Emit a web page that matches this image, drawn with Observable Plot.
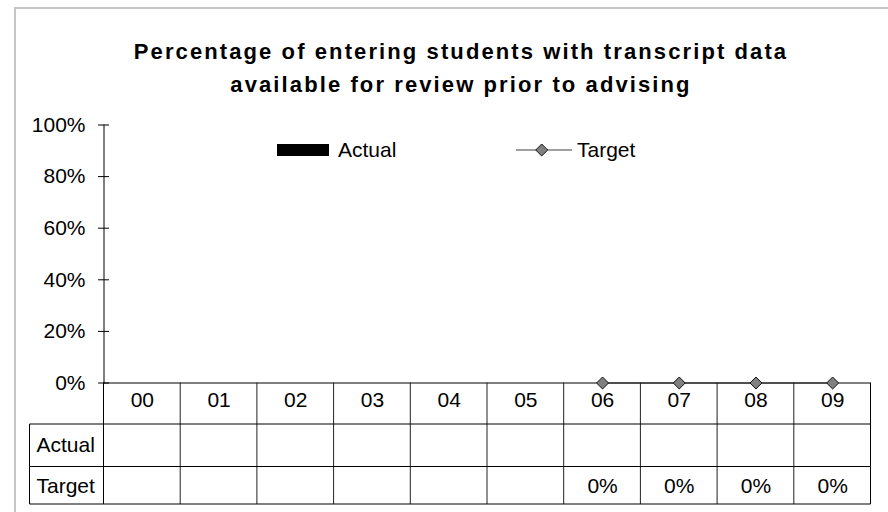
<!DOCTYPE html>
<html>
<head>
<meta charset="utf-8">
<script src="https://cdn.jsdelivr.net/npm/d3@7"></script>
<script src="https://cdn.jsdelivr.net/npm/@observablehq/plot@0.6"></script>
<style>
  html, body { margin: 0; padding: 0; background: #fff; }
  #chart svg { display: block; }
</style>
</head>
<body>
<div id="chart"></div>
<script>
// ---- data ----
const years = ["00", "01", "02", "03", "04", "05", "06", "07", "08", "09"];
const actualValues = [null, null, null, null, null, null, null, null, null, null];
const targetValues = [null, null, null, null, null, null, 0, 0, 0, 0];
const yTicks = [0, 0.2, 0.4, 0.6, 0.8, 1.0];
const titleLines = ["Percentage of entering students with transcript data", "available for review prior to advising"];
const seriesNames = ["Actual", "Target"];

const actual = years.map((y, i) => ({year: y, value: actualValues[i]}));
const target = years.map((y, i) => ({year: y, value: targetValues[i]}));
const pct = d3.format(".0%");
const FONT = "Liberation Sans, Arial, sans-serif";
const FS = 21;

const W = 888, H = 512;
const plot = Plot.plot({
  width: W,
  height: H,
  marginLeft: 103.5,
  marginRight: 17.5,
  marginTop: 124.5,
  marginBottom: 129.5,
  style: {fontFamily: FONT, fontSize: FS + "px", color: "#000", background: "#fff"},
  x: {type: "band", domain: years, padding: 0, round: false, axis: null},
  y: {domain: [0, 1]},
  marks: [
    Plot.axisY({ticks: yTicks, tickFormat: pct, label: null, tickSize: 11, dx: 5.5, tickPadding: 13, fontSize: FS, stroke: "#000", strokeOpacity: 1}),
    Plot.barY(actual.filter(d => d.value != null), {x: "year", y: "value", fill: "#000"}),
    Plot.line(target.filter(d => d.value != null), {x: "year", y: "value", stroke: "#808080", strokeWidth: 1.5}),
    Plot.frame({anchor: "left", stroke: "#000"}),
    Plot.ruleY([0], {stroke: "#000"}),
    Plot.dot(target.filter(d => d.value != null), {x: "year", y: "value", symbol: "diamond2", r: 5.4, fill: "#808080", stroke: "#111", strokeWidth: 1}),
    // data table text
    Plot.text(years, {x: d => d, text: d => d, frameAnchor: "bottom", dy: 24, fontSize: FS, fill: "#000"}),
    Plot.text(actual.filter(d => d.value != null), {x: "year", text: d => pct(d.value), frameAnchor: "bottom", dy: 68.5, fontSize: FS, fill: "#000"}),
    Plot.text(target.filter(d => d.value != null), {x: "year", text: d => pct(d.value), frameAnchor: "bottom", dy: 110, fontSize: FS, fill: "#000"}),
    Plot.text([seriesNames[0]], {text: d => d, frameAnchor: "bottom-left", dx: -67.5, dy: 68.5, textAnchor: "start", fontSize: FS, fill: "#000"}),
    Plot.text([seriesNames[1]], {text: d => d, frameAnchor: "bottom-left", dx: -67.5, dy: 110, textAnchor: "start", fontSize: FS, fill: "#000"})
  ]
});

const svg = d3.select(plot);
const xs = plot.scale("x");
const ys = plot.scale("y");
const bw = xs.bandwidth;
const edges = years.map(y => xs.apply(y)).concat([xs.apply(years[years.length - 1]) + bw]);
const y0 = ys.apply(0);
const rowA = y0 + 41.5, rowT = y0 + 84, rowB = y0 + 121.5;
const tableLeft = 29.5;
const right = edges[edges.length - 1];

// outer chart border
svg.insert("rect", ":first-child")
  .attr("x", 15).attr("y", 8).attr("width", W + 10).attr("height", H + 10)
  .attr("fill", "none").attr("stroke", "#c6c6c6").attr("stroke-width", 2);

const g = svg.append("g").attr("stroke", "#000").attr("stroke-width", 1).attr("fill", "none");
edges.forEach((x, i) => {
  g.append("line").attr("x1", x).attr("x2", x).attr("y1", y0).attr("y2", rowB)
    .attr("stroke", (i === 0 || i === edges.length - 1) ? "#000" : "#222");
});
[rowA, rowT, rowB].forEach(y => {
  g.append("line").attr("x1", tableLeft).attr("x2", right).attr("y1", y).attr("y2", y);
});
g.append("line").attr("x1", tableLeft).attr("x2", tableLeft).attr("y1", rowA).attr("y2", rowB);

// title
const t = svg.append("text").attr("text-anchor", "middle").attr("font-family", FONT)
  .attr("font-weight", "bold").attr("font-size", 22).attr("letter-spacing", 2.1).attr("fill", "#000");
titleLines.forEach((line, i) => {
  t.append("tspan").attr("x", 461).attr("y", 59 + i * 32.5).text(line);
});

// legend
const lg = svg.append("g").attr("font-family", FONT).attr("font-size", FS).attr("fill", "#000").attr("text-anchor", "start");
lg.append("rect").attr("x", 277).attr("y", 144).attr("width", 52).attr("height", 12).attr("fill", "#000");
lg.append("text").attr("x", 338).attr("y", 157).attr("text-anchor", "start").text(seriesNames[0]);
lg.append("line").attr("x1", 516).attr("x2", 572).attr("y1", 150).attr("y2", 150)
  .attr("stroke", "#808080").attr("stroke-width", 1.5);
lg.append("path").attr("d", d3.symbol(d3.symbolDiamond2, Math.PI * 5.4 * 5.4)()).attr("transform", "translate(541.7,150)")
  .attr("fill", "#808080").attr("stroke", "#111");
lg.append("text").attr("x", 577).attr("y", 157).attr("text-anchor", "start").text(seriesNames[1]);

document.getElementById("chart").appendChild(plot);
</script>
</body>
</html>
